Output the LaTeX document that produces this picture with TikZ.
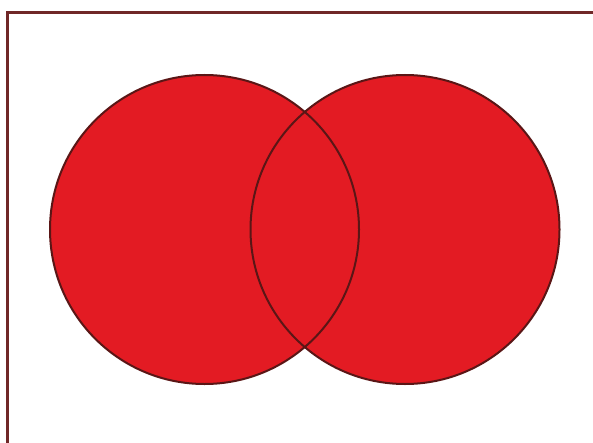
\documentclass[tikz,border=0pt]{standalone}
\usetikzlibrary{calc}
\definecolor{vred}{HTML}{E31B23}
\definecolor{vline}{HTML}{5A1616}
\definecolor{frame}{HTML}{702828}
\begin{document}
\begin{tikzpicture}[x=1pt,y=1pt,
  setfill/.style={fill=vred,draw=none},
  setline/.style={draw=vline,line width=2pt}]
\useasboundingbox (0,0) rectangle (593,442);
\fill[white] (0,0) rectangle (593,442);
% frame (left and top sides only visible)
\draw[frame,line width=2.8pt] (7.5,-5) -- (7.5,429.5) -- (600,429.5);
\coordinate (L) at (204.5,212.5);
\coordinate (R) at (405,212.5);
\fill[setfill] (L) circle (154.5);
\fill[setfill] (R) circle (154.5);
\draw[setline] (L) circle (154.5);
\draw[setline] (R) circle (154.5);
\end{tikzpicture}
\end{document}
